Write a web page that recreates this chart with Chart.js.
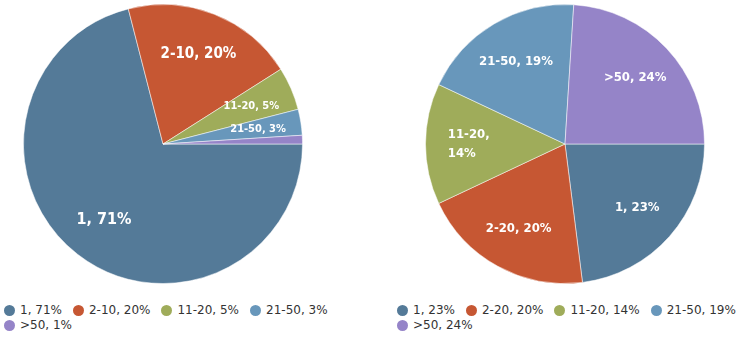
<!DOCTYPE html>
<html>
<head>
<meta charset="utf-8">
<script src="https://cdn.jsdelivr.net/npm/chart.js@4/dist/chart.umd.min.js"></script>
<style>
  body { margin: 0; width: 738px; height: 344px; background: #fff; position: relative; overflow: hidden; font-family: "DejaVu Sans", sans-serif; }
  .pie { position: absolute; top: 4px; width: 280px; height: 280px; }
  .legend { position: absolute; top: 303px; display: flex; flex-wrap: wrap; font-size: 12px; color: #333; line-height: 15px; }
  .legend span.item { display: inline-flex; align-items: center; margin-right: 11px; white-space: nowrap; }
  .legend i { display: inline-block; width: 11px; height: 11px; border-radius: 50%; margin-right: 5px; }
</style>
</head>
<body>
<div class="pie" style="left:23px"><canvas id="leftPie"></canvas></div>
<div class="pie" style="left:425px"><canvas id="rightPie"></canvas></div>
<div class="legend" id="leftLegend" style="left:4px; width:340px"></div>
<div class="legend" id="rightLegend" style="left:397px; width:355px"></div>
<script>
// data
const leftLabels = ['1', '2-10', '11-20', '21-50', '>50'];
const leftValues = [71, 20, 5, 3, 1];
const rightLabels = ['1', '2-20', '11-20', '21-50', '>50'];
const rightValues = [23, 20, 14, 19, 24];

const colors = ['#547a98', '#c65733', '#9fac5a', '#6897bb', '#9584c8'];

// text drawn inside the slices
const sliceText = {
  id: 'sliceText',
  afterDatasetsDraw(chart, args, opts) {
    const ctx = chart.ctx;
    const meta = chart.getDatasetMeta(0);
    const labels = chart.data.labels;
    const values = chart.data.datasets[0].data;
    meta.data.forEach((arc, i) => {
      const size = opts.sizes[i];
      if (!size) return;
      const mid = (arc.startAngle + arc.endAngle) / 2;
      const r = arc.outerRadius * opts.dist;
      const x = arc.x + Math.cos(mid) * r;
      const y = arc.y + Math.sin(mid) * r;
      const text = labels[i] + ', ' + values[i] + '%';
      ctx.save();
      ctx.fillStyle = '#fff';
      ctx.font = 'bold ' + size + 'px "DejaVu Sans Condensed", "DejaVu Sans", sans-serif';
      ctx.textBaseline = 'middle';
      if (opts.wrap && opts.wrap[i]) {
        const lines = [labels[i] + ',', values[i] + '%'];
        const w = Math.max(...lines.map(l => ctx.measureText(l).width));
        ctx.textAlign = 'left';
        const lh = size + 6;
        lines.forEach((l, k) => {
          ctx.fillText(l, x - w / 2, y + (k - (lines.length - 1) / 2) * lh);
        });
      } else {
        ctx.textAlign = 'center';
        ctx.fillText(text, x, y);
      }
      ctx.restore();
    });
  }
};

function makePie(id, labels, values, labelOpts) {
  return new Chart(document.getElementById(id), {
    type: 'pie',
    data: {
      labels: labels,
      datasets: [{
        data: values,
        backgroundColor: colors,
        borderColor: 'rgba(255,255,255,0.5)',
        borderWidth: 1
      }]
    },
    options: {
      responsive: true,
      maintainAspectRatio: false,
      animation: false,
      rotation: 90,
      layout: { padding: 0 },
      plugins: {
        legend: { display: false },
        tooltip: { enabled: false },
        sliceText: labelOpts
      }
    },
    plugins: [sliceText]
  });
}

function makeLegend(id, labels, values) {
  const el = document.getElementById(id);
  labels.forEach((l, i) => {
    const s = document.createElement('span');
    s.className = 'item';
    s.innerHTML = '<i style="background:' + colors[i] + '"></i>';
    s.appendChild(document.createTextNode(l + ', ' + values[i] + '%'));
    el.appendChild(s);
  });
}

makePie('leftPie', leftLabels, leftValues, { dist: 0.69, sizes: [16, 15, 11, 11, 0] });
makePie('rightPie', rightLabels, rightValues, { dist: 0.69, sizes: [13, 13, 13, 13, 13], wrap: [false, false, true, false, false] });
makeLegend('leftLegend', leftLabels, leftValues);
makeLegend('rightLegend', rightLabels, rightValues);
</script>
</body>
</html>
